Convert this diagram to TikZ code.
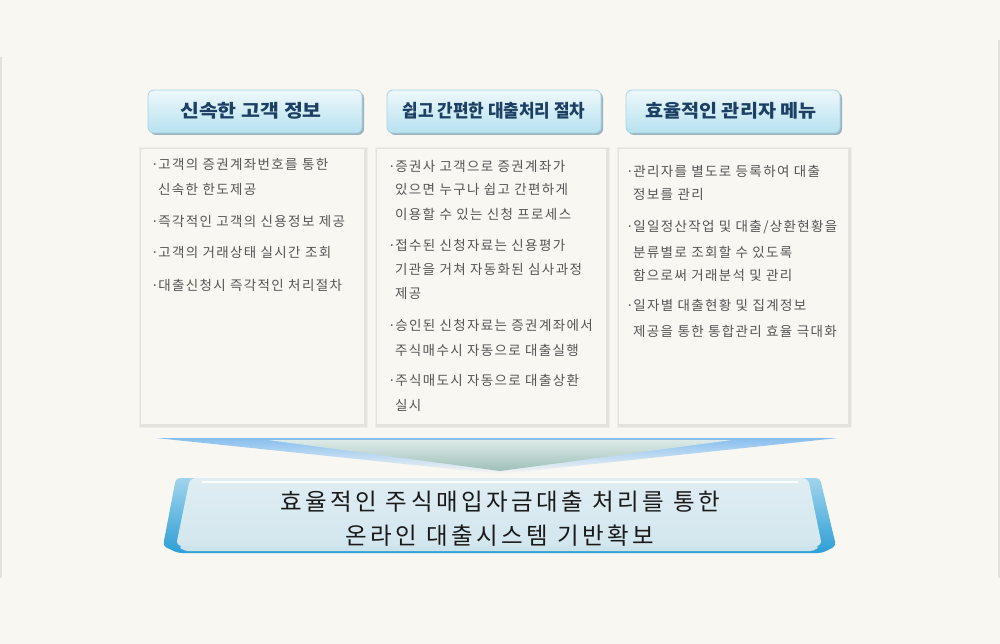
\documentclass[tikz,border=0pt]{standalone}
\usepackage{graphicx}
\usepackage{fontspec}
\setmainfont{Noto Sans CJK KR}
\usetikzlibrary{shadings}
\definecolor{bgc}{HTML}{F8F7F2}
\definecolor{hdrtxt}{HTML}{1D3F63}
\definecolor{bodytxt}{HTML}{555555}
\definecolor{btntop}{HTML}{EEF8FB}
\definecolor{btnbot}{HTML}{B6E2EF}
\definecolor{btnline}{HTML}{A8D4E4}
\definecolor{btnshadow}{HTML}{9DB4C0}
\definecolor{boxglow}{HTML}{E4E2DC}
\definecolor{boxglow2}{HTML}{EEEDE7}
\definecolor{bannerblue}{HTML}{2E9FD6}
\definecolor{bannerlight}{HTML}{D3E6EE}
\definecolor{funblue}{HTML}{86BEF0}
\definecolor{funmid}{HTML}{9EBFB8}
\definecolor{funtop}{HTML}{DCEAE8}
\definecolor{darktxt}{HTML}{1A1A1A}
\newcommand\bul{·\kern-0.5pt}
\begin{document}
\begin{tikzpicture}[x=1pt,y=-1pt,
  hdrbtn/.style={rounded corners=6pt, top color=btntop, bottom color=btnbot, draw=btnline, line width=0.8pt},
  hdrtext/.style={font=\fontsize{18}{20}\selectfont\bfseries, text=hdrtxt, inner sep=0pt},
  bodyline/.style={font=\fontsize{13.5}{15}\selectfont\addfontfeatures{LetterSpace=10}, text=bodytxt, anchor=base west, inner sep=0pt},
  bigtext/.style={font=\fontsize{23.5}{26}\selectfont\addfontfeatures{LetterSpace=15}, text=darktxt, inner sep=0pt, anchor=base}]
\useasboundingbox (0,0) rectangle (1000,644);
\fill[bgc] (0,0) rectangle (1000,644);
% faint side edges
\draw[boxglow, line width=1.5pt] (1,57) -- (1,578);
\draw[boxglow, line width=1.5pt] (999,40) -- (999,578);

% header buttons
\foreach \xa/\xb in {148/362, 387/601, 626/840}{
  \fill[btnshadow, rounded corners=6pt] (\xa+2,92) rectangle (\xb+2,135);
  \draw[hdrbtn] (\xa,90) rectangle (\xb,133);
}
\node[hdrtext] (h1) at (251,111) {\scalebox{1.14}[1]{신속한 고객 정보}};
\node[hdrtext] (h2) at (494,111) {\scalebox{0.94}[1]{쉽고 간편한 대출처리 절차}};
\node[hdrtext] (h3) at (731,111) {\scalebox{1.09}[1]{효율적인 관리자 메뉴}};

% content boxes
\foreach \xa/\xb in {140/365, 376/607, 618/849}{
  \fill[boxglow2] (\xa-1,147) rectangle (\xb+3,428);
  \fill[boxglow] (\xa,148) rectangle (\xb+2,427);
  \fill[bgc] (\xa+1,149) rectangle (\xb-1,424);
}

% box 1 text
\node[bodyline] (a1) at (151,170) {\bul 고객의 증권계좌번호를 통한};
\node[bodyline] (a2) at (158,195) {신속한 한도제공};
\node[bodyline] (a3) at (151,226) {\bul 즉각적인 고객의 신용정보 제공};
\node[bodyline] (a4) at (151,258) {\bul 고객의 거래상태 실시간 조회};
\node[bodyline] (a5) at (151,290) {\bul 대출신청시 즉각적인 처리절차};

% box 2 text
\node[bodyline] (b1) at (388,172) {\bul 증권사 고객으로 증권계좌가};
\node[bodyline] (b2) at (395,195) {있으면 누구나 쉽고 간편하게};
\node[bodyline] (b3) at (395,219) {이용할 수 있는 신청 프로세스};
\node[bodyline] (b4) at (388,251) {\bul 접수된 신청자료는 신용평가};
\node[bodyline] (b5) at (395,274) {기관을 거쳐 자동화된 심사과정};
\node[bodyline] (b6) at (395,298) {제공};
\node[bodyline] (b7) at (388,330) {\bul 승인된 신청자료는 증권계좌에서};
\node[bodyline] (b8) at (395,355) {주식매수시 자동으로 대출실행};
\node[bodyline] (b9) at (388,385) {\bul 주식매도시 자동으로 대출상환};
\node[bodyline] (b10) at (395,410) {실시};

% box 3 text
\node[bodyline] (c1) at (626,177) {\bul 관리자를 별도로 등록하여 대출};
\node[bodyline] (c2) at (633,200) {정보를 관리};
\node[bodyline] (c3) at (626,232) {\bul 일일정산작업 및 대출/상환현황을};
\node[bodyline] (c4) at (633,257) {분류별로 조회할 수 있도록};
\node[bodyline] (c5) at (633,280) {함으로써 거래분석 및 관리};
\node[bodyline] (c6) at (626,310) {\bul 일자별 대출현황 및 집계정보};
\node[bodyline] (c7) at (633,336) {제공을 통한 통합관리 효율 극대화};

% funnel
\shade[top color=funblue, bottom color=bgc] (156,438) -- (838,438) -- (500,474) -- cycle;
\shade[top color=funtop, bottom color=funmid] (268,440) -- (732,440) -- (500,471) -- cycle;

% banner
\shade[rounded corners=4pt, top color=bannerblue!45!white, bottom color=bannerblue]
  (176,478) -- (820,478) -- (836,546) -- (822,553) -- (178,553) -- (163,546) -- cycle;
\shade[rounded corners=6pt, top color=bannerlight!70!white, bottom color=bannerlight]
  (190,478) -- (808,478) -- (822,546) -- (176,546) -- cycle;
\fill[bannerlight!85!btnline, rounded corners=4pt] (178,546) -- (820,546) -- (814,551) -- (184,551) -- cycle;
\draw[white, line width=1.5pt, opacity=0.9] (202,482) -- (798,482);

\node[bigtext] (t1) at (500,510) {효율적인 주식매입자금대출 처리를 통한};
\node[bigtext] (t2) at (500,544) {온라인 대출시스템 기반확보};
\end{tikzpicture}
\end{document}
